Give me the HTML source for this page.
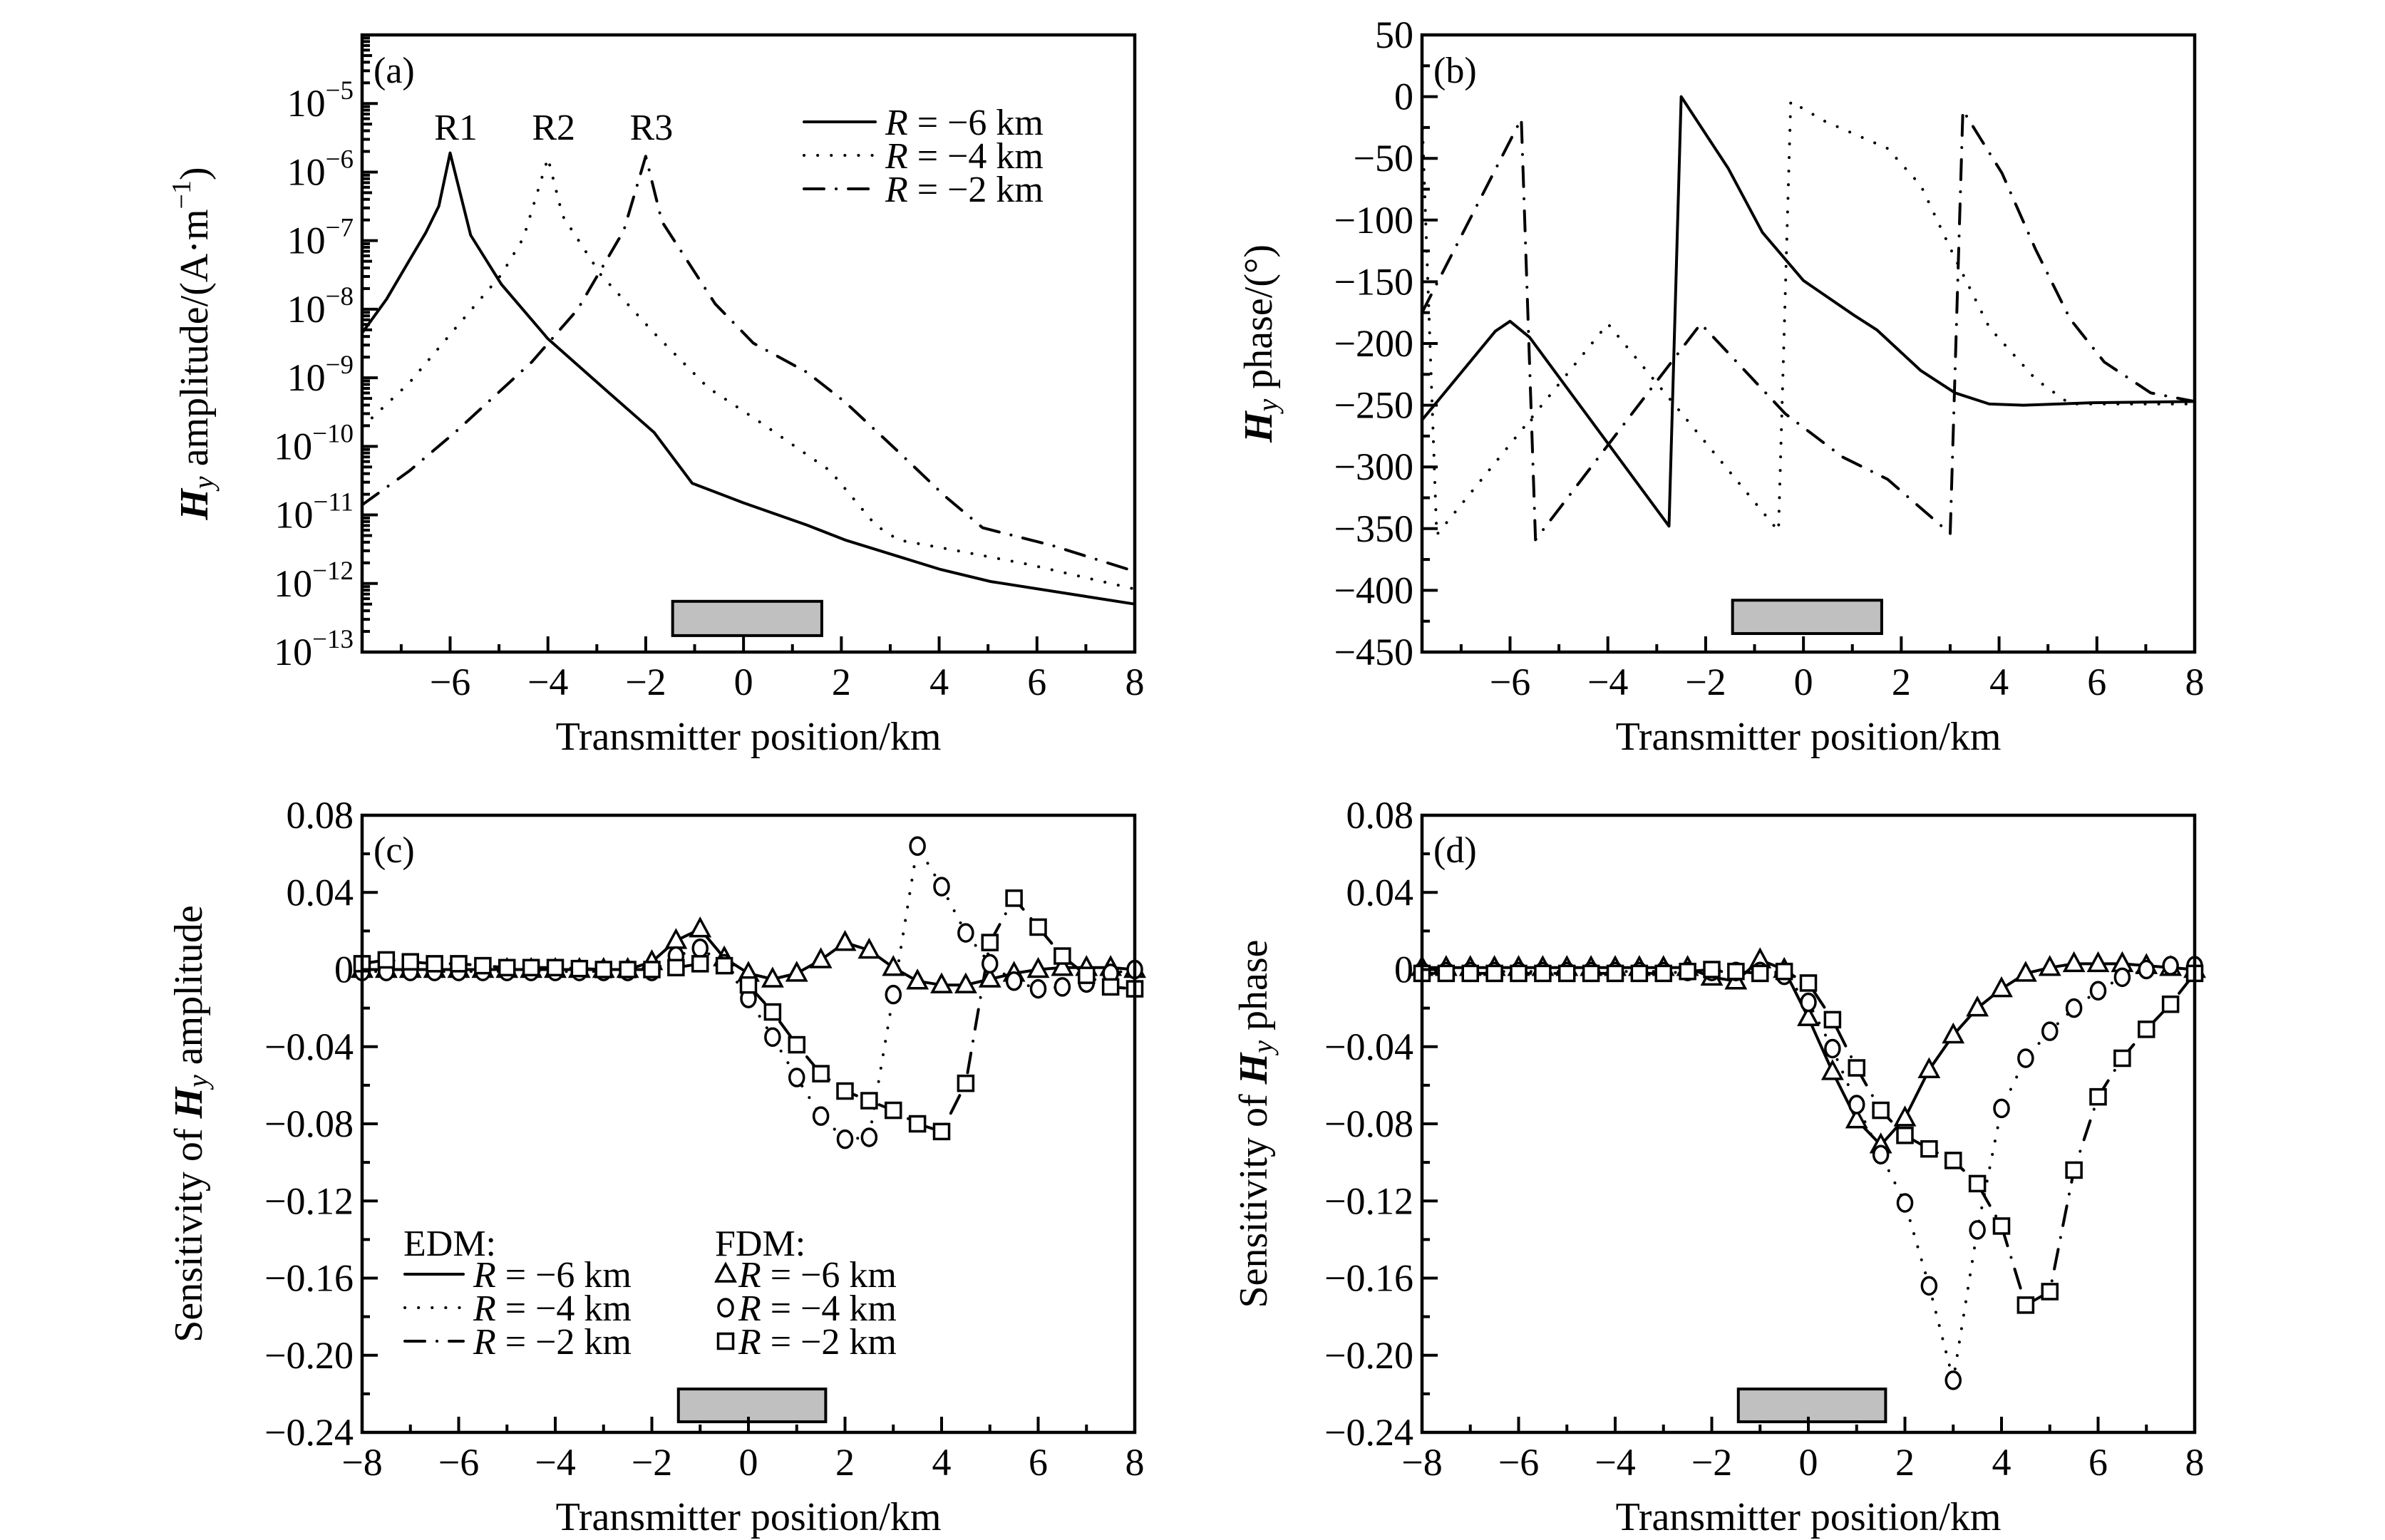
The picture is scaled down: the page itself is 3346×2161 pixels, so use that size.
<!DOCTYPE html>
<html><head><meta charset="utf-8"><style>
html,body{margin:0;padding:0;background:#fff;}
svg{display:block;font-family:"Liberation Serif","DejaVu Serif",serif;}
</style></head><body>
<svg id="fig" width="3346" height="2161" viewBox="0 0 3346 2161" xmlns="http://www.w3.org/2000/svg"></svg>
<script>
// ---------- Panel (a): Hy amplitude ----------
const aX1 = [-7.8,-7.3,-6.83,-6.5,-6.23,-6,-5.58,-4.95,-4.0,-2.77,-1.83,-1.05,0,1.3,2.08,4.03,5.05,8];
const aAmp1 = [4.5e-9,1.4e-8,5.2e-8,1.3e-7,3.2e-7,1.9e-6,1.2e-7,2.3e-8,3.7e-9,6.2e-10,1.6e-10,2.9e-11,1.5e-11,7.1e-12,4.3e-12,1.6e-12,1.07e-12,5e-13];
const aX2 = [-7.8,-6.83,-5.9,-4.95,-4.5,-4.0,-3.7,-2.92,-1.83,-0.73,0.36,1.77,2.7,3.17,4.27,5.83,8];
const aAmp2 = [1.9e-10,8.5e-10,5.2e-9,3.2e-8,1.1e-7,1.6e-6,2.3e-7,3.2e-8,4.5e-9,7.2e-10,2.2e-10,4.4e-11,7.1e-12,4.3e-12,3.1e-12,1.9e-12,8.3e-13];
const aX3 = [-7.8,-6.83,-5.9,-4.33,-3.39,-2.45,-2.0,-1.67,-0.58,0.2,1.3,2.08,3.17,4.11,4.89,6.3,8];
const aAmp3 = [1.4e-11,4.4e-11,1.6e-10,1.7e-9,1e-8,1.4e-7,1.7e-6,1.9e-7,1.2e-8,3.2e-9,1.2e-9,4.4e-10,8.3e-11,1.9e-11,6.5e-12,3.6e-12,1.5e-12];
const aYTickExp = [-13,-12,-11,-10,-9,-8,-7,-6,-5];
const abXTicks = [-6,-4,-2,0,2,4,6,8];
// ---------- Panel (b): Hy phase ----------
const bX1 = [-7.8,-6.3,-6,-5.6,-2.75,-2.5,-1.54,-0.84,0,1.03,1.5,2.4,3.1,3.8,4.5,5.9,8];
const bPh1 = [-262,-190,-182,-195,-348,0,-58,-110,-149,-177,-189,-222,-240,-249,-250,-248,-247];
const bX2 = [-7.8,-7.5,-4.0,-0.51,-0.26,0.44,1.72,2.4,3.1,3.8,4.75,5.45,8];
const bPh2 = [-15,-355,-184,-352,-4,-20,-42,-72,-131,-187,-229,-249,-249];
const bX3 = [-7.8,-5.77,-5.48,-2.1,-0.37,0.8,1.72,3.0,3.26,4.06,4.75,5.45,6.15,7.1,8];
const bPh3 = [-175,-18,-359,-184,-257,-292,-310,-354,-11,-62,-124,-180,-215,-240,-247];
const bYTicks = [50,0,-50,-100,-150,-200,-250,-300,-350,-400,-450];
// ---------- Panels (c),(d): sensitivities ----------
const cdX = [-8,-7.5,-7,-6.5,-6,-5.5,-5,-4.5,-4,-3.5,-3,-2.5,-2,-1.5,-1,-0.5,0,0.5,1,1.5,2,2.5,3,3.5,4,4.5,5,5.5,6,6.5,7,7.5,8];
const cTri = [0,0,0,0,0,0,0,0,0,0,0,0,0.004,0.015,0.021,0.006,-0.002,-0.005,-0.002,0.005,0.014,0.010,0.001,-0.006,-0.008,-0.008,-0.005,-0.002,0,0.001,0.001,0.001,0];
const cCirc = [-0.001,-0.001,-0.001,-0.001,-0.001,-0.001,-0.001,-0.001,-0.001,-0.001,-0.001,-0.001,-0.001,0.007,0.011,0.003,-0.015,-0.035,-0.056,-0.076,-0.088,-0.087,-0.013,0.064,0.043,0.019,0.003,-0.006,-0.010,-0.009,-0.007,-0.002,0];
const cSq = [0.003,0.005,0.004,0.003,0.003,0.002,0.001,0.001,0.001,0.0005,0,0,0,0.001,0.003,0.002,-0.008,-0.022,-0.039,-0.054,-0.063,-0.068,-0.073,-0.080,-0.084,-0.059,0.014,0.037,0.022,0.007,-0.003,-0.009,-0.010];
const dTri = [0.001,0.001,0.001,0.001,0.001,0.001,0.001,0.001,0.001,0.001,0.001,0.001,-0.004,-0.006,0.005,0,-0.025,-0.053,-0.078,-0.091,-0.077,-0.052,-0.034,-0.020,-0.010,-0.002,0.001,0.003,0.003,0.003,0.002,0.001,0];
const dCirc = [-0.001,-0.001,-0.001,-0.001,-0.001,-0.001,-0.001,-0.001,-0.001,-0.001,-0.001,-0.001,-0.001,-0.001,-0.001,-0.003,-0.017,-0.041,-0.070,-0.096,-0.121,-0.164,-0.213,-0.135,-0.072,-0.046,-0.032,-0.020,-0.011,-0.004,0,0.002,0.002];
const dSq = [-0.002,-0.002,-0.002,-0.002,-0.002,-0.002,-0.002,-0.002,-0.002,-0.002,-0.002,-0.001,0,-0.001,-0.002,-0.001,-0.007,-0.026,-0.051,-0.073,-0.086,-0.093,-0.099,-0.111,-0.133,-0.174,-0.167,-0.104,-0.066,-0.046,-0.031,-0.018,-0.002];
const cdYTicks = [0.08,0.04,0,-0.04,-0.08,-0.12,-0.16,-0.20,-0.24];
const cdYLabels = ["0.08","0.04","0","\u22120.04","\u22120.08","\u22120.12","\u22120.16","\u22120.20","\u22120.24"];
const cdXTicks = [-8,-6,-4,-2,0,2,4,6,8];
const anomalyX = [-1.45,1.6];

const NS = "http://www.w3.org/2000/svg";
const svg = document.getElementById('fig');
const FS = 54;
function el(tag, attrs, parent){
  const e = document.createElementNS(NS, tag);
  for (const k in attrs) e.setAttribute(k, attrs[k]);
  (parent||svg).appendChild(e);
  return e;
}
const DOT = "0.1 19", DASHDOT = "28 17 0.1 17";
function fmt(v){ return v<0 ? "\u2212"+Math.abs(v) : String(v); }

function panel(name, g){
  const grp = el('g', {});
  
  
  g.grp = grp;
  g.sx = v => g.x0 + (v - g.xmin)/(g.xmax - g.xmin)*(g.x1 - g.x0);
  g.sy = v => g.y1 - (g.tr(v) - g.tr(g.ymin))/(g.tr(g.ymax) - g.tr(g.ymin))*(g.y1 - g.y0);
  return g;
}
function frame(g){
  const r = el('rect', {x:g.x0,y:g.y0,width:g.x1-g.x0,height:g.y1-g.y0,fill:'none',stroke:'#000','stroke-width':4.5}, g.grp);
  
  
}
function tick(g, x1,y1,x2,y2){ el('line',{x1:x1,y1:y1,x2:x2,y2:y2,stroke:'#000','stroke-width':4},g.grp); }
function xAxis(g, majors, minors){
  minors.forEach(v=>{ const x=g.sx(v); tick(g,x,g.y1,x,g.y1-11); });
  majors.forEach(v=>{ const x=g.sx(v); tick(g,x,g.y1,x,g.y1-22);
    const t = el('text',{x:x,y:g.y1+60,'font-size':FS,'text-anchor':'middle'},g.grp);
    
    
    t.textContent = fmt(v); });
  const tt = el('text',{x:(g.x0+g.x1)/2,y:g.y1+137,'font-size':56,'text-anchor':'middle'},g.grp);
  
  
  tt.textContent = 'Transmitter position/km';
}
function yTitle(g, x, parts){
  const cy=(g.y0+g.y1)/2;
  const t = el('text',{x:x,y:cy,'font-size':56,'text-anchor':'middle',transform:`rotate(-90 ${x} ${cy})`,'dominant-baseline':'middle'},g.grp);
  
  
  parts.forEach(p=>{ const s=el('tspan',p.a||{},t); s.textContent=p.t; });
}
function curve(g, xs, ys, dash, name){
  const d = xs.map((x,i)=>(i?'L':'M')+g.sx(x).toFixed(1)+' '+g.sy(ys[i]).toFixed(1)).join(' ');
  const p = el('path',{d:d,fill:'none',stroke:'#000','stroke-width':4,'stroke-linecap':'round','stroke-linejoin':'round'},g.grp);
  if(dash) p.setAttribute('stroke-dasharray',dash);
  
  
}
function marker(g, type, x, y, name){
  let m;
  if(type==='tri'){ m = el('path',{d:`M${x} ${y-14} L${x+13} ${y+10} L${x-13} ${y+10} Z`,fill:'#fff',stroke:'#000','stroke-width':3.5},g.grp); }
  else if(type==='circ'){ m = el('ellipse',{cx:x,cy:y,rx:10,ry:12,fill:'#fff',stroke:'#000','stroke-width':3.5},g.grp); }
  else { m = el('rect',{x:x-10.5,y:y-10.5,width:21,height:21,fill:'#fff',stroke:'#000','stroke-width':3.5},g.grp); }
  
  
}
function series(g, xs, ys, type, name){
  xs.forEach((x,i)=>marker(g, type, g.sx(x), g.sy(ys[i]), name));
}
function anomaly(g, ya, yb){
  const r = el('rect',{x:g.sx(anomalyX[0]),y:g.sy(ya),width:g.sx(anomalyX[1])-g.sx(anomalyX[0]),height:g.sy(yb)-g.sy(ya),fill:'#c0c0c0',stroke:'#000','stroke-width':4},g.grp);
  
  
}
function label(g, x, y, txt, name, size){
  const t = el('text',{x:x,y:y,'font-size':size||FS},g.grp);
  
  
  t.textContent = txt; return t;
}
function rText(g, x, y, val, name){
  const t = el('text',{x:x,y:y,'font-size':52},g.grp);
  
  
  const a = el('tspan',{'font-style':'italic'},t); a.textContent='R';
  const b = el('tspan',{},t); b.textContent=' = \u2212'+val+' km';
}
const minorX1 = [-7,-5,-3,-1,1,3,5,7];

// ===== Panel A =====
const A = panel('panel-a-amplitude',{x0:508,x1:1592,y0:49,y1:915,xmin:-7.8,xmax:8,ymin:1e-13,ymax:1e-4,tr:Math.log10});
anomaly(A, Math.pow(10,-12.26), Math.pow(10,-12.76));
curve(A, aX1, aAmp1, null, 'amp-curve-r-6');
curve(A, aX2, aAmp2, DOT, 'amp-curve-r-4');
curve(A, aX3, aAmp3, DASHDOT, 'amp-curve-r-2');
frame(A);
xAxis(A, abXTicks, minorX1);
for(let e=-13;e<-4;e++){ for(let k=2;k<10;k++){ const y=A.sy(k*Math.pow(10,e)); tick(A,A.x0,y,A.x0+(k===5?14:11),y);} }
aYTickExp.forEach(e=>{ const y=A.sy(Math.pow(10,e)); tick(A,A.x0,y,A.x0+22,y);
  const t = el('text',{x:A.x0-12,y:y+18,'font-size':FS,'text-anchor':'end'},A.grp);
  
  
  const s1=el('tspan',{},t); s1.textContent='10';
  const s2=el('tspan',{'font-size':37,dy:-24},t); s2.textContent='\u2212'+Math.abs(e); });
yTitle(A, 278, [{t:'H',a:{'font-style':'italic','font-weight':'bold'}},{t:'y',a:{'font-style':'italic','font-size':40,dy:12}},{t:' amplitude/(A\u00b7m',a:{dy:-12}},{t:'\u22121',a:{'font-size':38,dy:-20}},{t:')',a:{dy:20}}]);
label(A, 524, 116, '(a)', 'panel-label-a', 52);
const pk = [['R1',-6],['R2',-4],['R3',-2]];
pk.forEach(p=>{ const t=label(A, A.sx(p[1])+8, 196, p[0], 'peak-label-'+p[0].toLowerCase(), 52); t.setAttribute('text-anchor','middle'); });
[[null,'6',171],[DOT,'4',218],[DASHDOT,'2',265]].forEach(r=>{
  const l = el('line',{x1:1128,y1:r[2],x2:1228,y2:r[2],stroke:'#000','stroke-width':4,'stroke-linecap':'round'},A.grp);
  if(r[0]) l.setAttribute('stroke-dasharray', r[0]);
  
  
  rText(A, 1242, r[2]+18, r[1], 'legend-entry');
});

// ===== Panel B =====
const B = panel('panel-b-phase',{x0:1995,x1:3079,y0:49,y1:915,xmin:-7.8,xmax:8,ymin:-450,ymax:50,tr:v=>v});
anomaly(B, -408, -435);
curve(B, bX1, bPh1, null, 'phase-curve-r-6');
curve(B, bX2, bPh2, DOT, 'phase-curve-r-4');
curve(B, bX3, bPh3, DASHDOT, 'phase-curve-r-2');
frame(B);
xAxis(B, abXTicks, minorX1);
for(let v=-425;v<50;v+=50){ const y=B.sy(v); tick(B,B.x0,y,B.x0+11,y); }
bYTicks.forEach(v=>{ const y=B.sy(v); tick(B,B.x0,y,B.x0+22,y);
  const t=label(B, B.x0-12, y+18, fmt(v), 'y-tick-label'); t.setAttribute('text-anchor','end'); });
yTitle(B, 1771, [{t:'H',a:{'font-style':'italic','font-weight':'bold'}},{t:'y',a:{'font-style':'italic','font-size':40,dy:12}},{t:' phase/(\u00b0)',a:{dy:-12}}]);
label(B, 2011, 116, '(b)', 'panel-label-b', 52);

// ===== Panels C, D =====
function sensPanel(name, x0, yTitleX, tri, circ, sq, titleWord, plabel){
  const G = panel(name,{x0:x0,x1:x0+1084,y0:1144,y1:2010,xmin:-8,xmax:8,ymin:-0.24,ymax:0.08,tr:v=>v});
  anomaly(G, -0.2175, -0.2345);
  curve(G, cdX, tri, null, 'edm-line-r-6');
  curve(G, cdX, circ, DOT, 'edm-line-r-4');
  curve(G, cdX, sq, DASHDOT, 'edm-line-r-2');
  series(G, cdX, tri, 'tri', 'fdm-marker-r-6');
  series(G, cdX, circ, 'circ', 'fdm-marker-r-4');
  series(G, cdX, sq, 'sq', 'fdm-marker-r-2');
  frame(G);
  xAxis(G, cdXTicks, minorX1);
  for(let v=-0.22;v<0.08;v+=0.04){ const y=G.sy(v); tick(G,G.x0,y,G.x0+11,y); }
  cdYTicks.forEach((v,i)=>{ const y=G.sy(v); tick(G,G.x0,y,G.x0+22,y);
    const t=label(G, G.x0-12, y+18, cdYLabels[i], 'y-tick-label'); t.setAttribute('text-anchor','end'); });
  yTitle(G, yTitleX, [{t:'Sensitivity of '},{t:'H',a:{'font-style':'italic','font-weight':'bold'}},{t:'y',a:{'font-style':'italic','font-size':40,dy:12}},{t:' '+titleWord,a:{dy:-12}}]);
  label(G, x0+16, 1210, plabel, 'panel-label-'+plabel[1], 52);
  return G;
}
const C = sensPanel('panel-c-amplitude-sensitivity', 508, 270, cTri, cCirc, cSq, 'amplitude', '(c)');
const D = sensPanel('panel-d-phase-sensitivity', 1995, 1764, dTri, dCirc, dSq, 'phase', '(d)');
// legend in panel C
label(C, 566, 1762, 'EDM:', 'legend-edm-title', 52);
label(C, 1003, 1762, 'FDM:', 'legend-fdm-title', 52);
[[null,'6',1788,'tri'],[DOT,'4',1835,'circ'],[DASHDOT,'2',1882,'sq']].forEach(r=>{
  const l = el('line',{x1:568,y1:r[2],x2:650,y2:r[2],stroke:'#000','stroke-width':4,'stroke-linecap':'round'},C.grp);
  if(r[0]) l.setAttribute('stroke-dasharray', r[0]);
  
  
  rText(C, 664, r[2]+18, r[1], 'legend-entry');
  marker(C, r[3], 1018, r[2], 'legend-marker');
  rText(C, 1036, r[2]+18, r[1], 'legend-entry');
});
</script>
</body></html>
